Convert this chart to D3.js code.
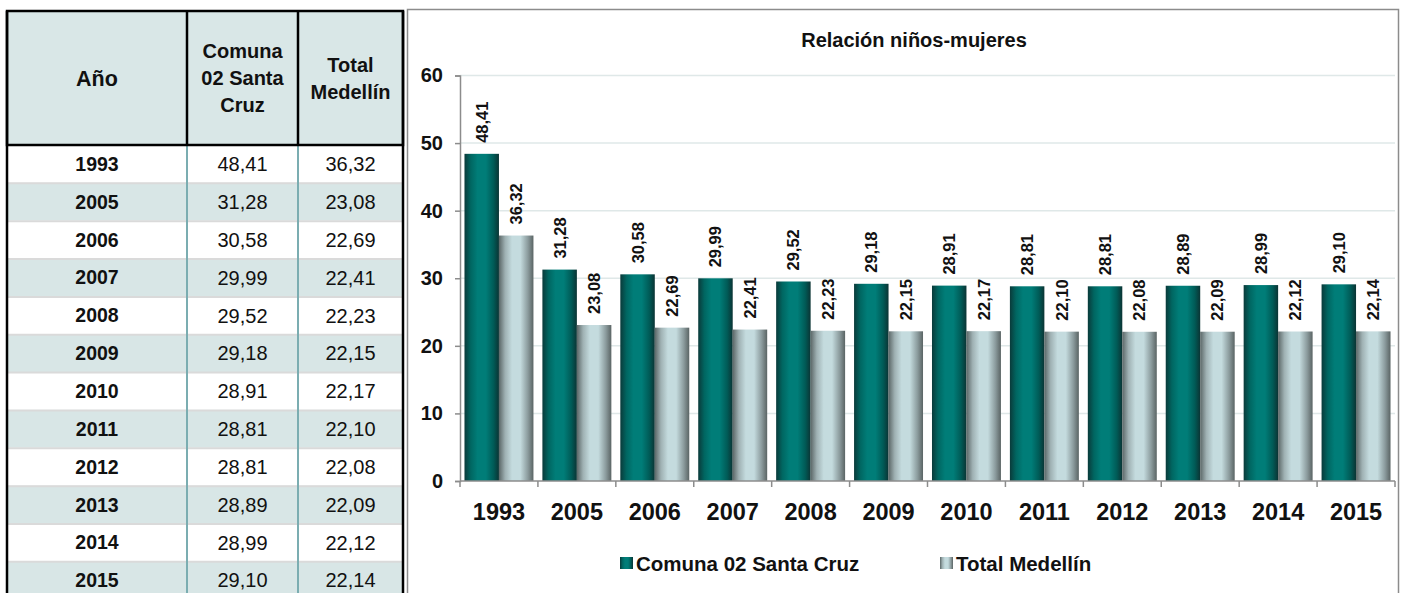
<!DOCTYPE html>
<html>
<head>
<meta charset="utf-8">
<script src="https://cdn.jsdelivr.net/npm/d3@7"></script>
<style>
  html, body { margin: 0; padding: 0; background: #fff; }
  svg { display: block; font-family: "Liberation Sans", Arial, sans-serif; }
</style>
</head>
<body>
<svg id="c" width="1409" height="593"></svg>
<script>
// ---- data ----
const years = ["1993","2005","2006","2007","2008","2009","2010","2011","2012","2013","2014","2015"];
const comuna = [48.41,31.28,30.58,29.99,29.52,29.18,28.91,28.81,28.81,28.89,28.99,29.10];
const medellin = [36.32,23.08,22.69,22.41,22.23,22.15,22.17,22.10,22.08,22.09,22.12,22.14];
const seriesNames = ["Comuna 02 Santa Cruz", "Total Medellín"];
const yTicks = [0,10,20,30,40,50,60];
const headerLines = [["Año"], ["Comuna","02 Santa","Cruz"], ["Total","Medellín"]];
const chartTitle = "Relación niños-mujeres";

const fmt = v => d3.format(".2f")(v).replace(".", ",");
const svg = d3.select("#c");
const defs = svg.append("defs");

function grad(id, stops) {
  const g = defs.append("linearGradient").attr("id", id)
    .attr("x1", "0%").attr("x2", "100%").attr("y1", "0%").attr("y2", "0%");
  stops.forEach(s => g.append("stop").attr("offset", s[0]).attr("stop-color", s[1]));
}
grad("gTeal", [["0%","#0a3a3a"],["18%","#006661"],["38%","#007d78"],["62%","#007d78"],["84%","#005b57"],["100%","#0b3434"]]);
grad("gGray", [["0%","#5b6767"],["18%","#9fb1b3"],["38%","#c4dbde"],["62%","#c4dbde"],["84%","#8b9b9d"],["100%","#5a6464"]]);
const fills = ["url(#gTeal)", "url(#gGray)"];

// ---- table ----
const T = { x0: 7, x1: 187, x2: 298, x3: 403, top: 11, headBottom: 145, rowH: 37.85 };
const colCenters = [(T.x0+T.x1)/2, (T.x1+T.x2)/2, (T.x2+T.x3)/2];
const tbl = svg.append("g");

tbl.append("rect").attr("x", T.x0).attr("y", T.top).attr("width", T.x3 - T.x0)
  .attr("height", T.headBottom - T.top).attr("fill", "#d9e7e7");

const rows = tbl.selectAll("g.row").data(years).join("g")
  .attr("transform", (d, i) => `translate(0,${T.headBottom + i * T.rowH})`);
rows.append("rect").attr("x", T.x0).attr("y", 0).attr("width", T.x3 - T.x0).attr("height", T.rowH)
  .attr("fill", (d, i) => i % 2 ? "#d8e6e6" : "#ffffff");
rows.filter((d, i) => i > 0).append("line").attr("x1", T.x0).attr("x2", T.x3).attr("y1", 0.5).attr("y2", 0.5)
  .attr("stroke", "#dadada").attr("stroke-width", 2);
rows.append("text").attr("x", colCenters[0]).attr("y", T.rowH / 2).attr("dy", "0.36em")
  .attr("text-anchor", "middle").attr("font-weight", "bold").attr("font-size", 19.5).attr("fill", "#111")
  .text(d => d);
rows.append("text").attr("x", colCenters[1]).attr("y", T.rowH / 2).attr("dy", "0.36em")
  .attr("text-anchor", "middle").attr("font-size", 20).attr("fill", "#111")
  .text((d, i) => fmt(comuna[i]));
rows.append("text").attr("x", colCenters[2]).attr("y", T.rowH / 2).attr("dy", "0.36em")
  .attr("text-anchor", "middle").attr("font-size", 20).attr("fill", "#111")
  .text((d, i) => fmt(medellin[i]));

// body column dividers
[T.x1, T.x2].forEach(x => tbl.append("line").attr("x1", x).attr("x2", x)
  .attr("y1", T.headBottom).attr("y2", 593).attr("stroke", "#7badb1").attr("stroke-width", 2));

// header texts
headerLines.forEach((lines, c) => {
  const lh = 27;
  const cy = (T.top + T.headBottom) / 2;
  const startY = cy - (lines.length - 1) * lh / 2;
  lines.forEach((t, k) => tbl.append("text").attr("x", colCenters[c]).attr("y", startY + k * lh)
    .attr("dy", "0.36em").attr("text-anchor", "middle").attr("font-weight", "bold")
    .attr("font-size", c === 0 ? 21.5 : 20).attr("fill", "#111").text(t));
});
// header borders
tbl.append("rect").attr("x", T.x0).attr("y", T.top).attr("width", T.x3 - T.x0)
  .attr("height", T.headBottom - T.top).attr("fill", "none").attr("stroke", "#000").attr("stroke-width", 2.5);
[T.x1, T.x2].forEach(x => tbl.append("line").attr("x1", x).attr("x2", x)
  .attr("y1", T.top).attr("y2", T.headBottom).attr("stroke", "#000").attr("stroke-width", 2.5));
[T.x0, T.x3].forEach(x => tbl.append("line").attr("x1", x).attr("x2", x)
  .attr("y1", T.top).attr("y2", 593).attr("stroke", "#000").attr("stroke-width", 2.5));

// ---- chart ----
svg.append("rect").attr("x", 407.5).attr("y", 9.5).attr("width", 991).attr("height", 600)
  .attr("fill", "#fff").attr("stroke", "#8c8c8c").attr("stroke-width", 1.5);

const plot = { left: 460, right: 1395, top: 75.5, bottom: 481 };
const x = d3.scaleBand().domain(years).range([plot.left, plot.right]).paddingInner(0.115).paddingOuter(0.0575);
const xs = d3.scaleBand().domain([0, 1]).range([0, x.bandwidth()]);
const y = d3.scaleLinear().domain([0, 60]).range([plot.bottom, plot.top]);
const xb = d3.scaleBand().domain(years).range([plot.left, plot.right]);

svg.append("text").attr("x", 914).attr("y", 47).attr("text-anchor", "middle")
  .attr("font-weight", "bold").attr("font-size", 20).attr("fill", "#111").text(chartTitle);

// gridlines
svg.append("g").selectAll("line").data(yTicks.filter(t => t > 0)).join("line")
  .attr("x1", plot.left).attr("x2", plot.right).attr("y1", d => y(d)).attr("y2", d => y(d))
  .attr("stroke", "#dfe8e8").attr("stroke-width", 1.5);

// y axis
const yAxis = svg.append("g").attr("transform", `translate(${plot.left},0)`)
  .call(d3.axisLeft(y).tickValues(yTicks).tickSize(5).tickPadding(12).tickFormat(d3.format("d")));
yAxis.select(".domain").attr("stroke", "#8c8c8c").attr("stroke-width", 1.5);
yAxis.selectAll(".tick line").attr("stroke", "#8c8c8c").attr("stroke-width", 1.5);
yAxis.selectAll(".tick text").attr("font-size", 20).attr("font-weight", "bold").attr("fill", "#111")
  .attr("font-family", "Liberation Sans, Arial, sans-serif");

// bars
const series = [comuna, medellin];
const groups = svg.append("g").selectAll("g").data(years).join("g")
  .attr("transform", d => `translate(${x(d)},0)`);
series.forEach((vals, s) => {
  groups.append("rect").attr("x", xs(s)).attr("width", xs.bandwidth())
    .attr("y", (d, i) => y(vals[i])).attr("height", (d, i) => y(0) - y(vals[i]))
    .attr("fill", fills[s]);
  groups.append("text")
    .attr("transform", (d, i) => `translate(${xs(s) + xs.bandwidth() / 2},${y(vals[i]) - 11}) rotate(-90)`)
    .attr("dy", "0.36em").attr("text-anchor", "start").attr("font-weight", "bold")
    .attr("font-size", 16.5).attr("fill", "#111").text((d, i) => fmt(vals[i]));
});

// x axis
const xAxis = svg.append("g").attr("transform", `translate(0,${plot.bottom})`);
xAxis.append("line").attr("x1", plot.left).attr("x2", plot.right).attr("stroke", "#8c8c8c").attr("stroke-width", 1.5);
xAxis.selectAll("line.t").data(years.concat(["end"])).join("line").attr("class", "t")
  .attr("x1", (d, i) => i < years.length ? xb(d) : plot.right)
  .attr("x2", (d, i) => i < years.length ? xb(d) : plot.right)
  .attr("y1", 0).attr("y2", 6).attr("stroke", "#8c8c8c").attr("stroke-width", 1.5);
xAxis.selectAll("text").data(years).join("text")
  .attr("x", d => xb(d) + xb.bandwidth() / 2).attr("y", 39).attr("text-anchor", "middle")
  .attr("font-weight", "bold").attr("font-size", 23.5).attr("fill", "#111").text(d => d);

// legend
const legendX = [620, 940];
const lg = svg.append("g").selectAll("g").data(seriesNames).join("g")
  .attr("transform", (d, i) => `translate(${legendX[i]},557)`);
lg.append("rect").attr("width", 13).attr("height", 12).attr("fill", (d, i) => fills[i]);
lg.append("text").attr("x", 16).attr("y", 13.5).attr("font-weight", "bold").attr("font-size", 20.5)
  .attr("fill", "#111").text(d => d);
</script>
</body>
</html>
